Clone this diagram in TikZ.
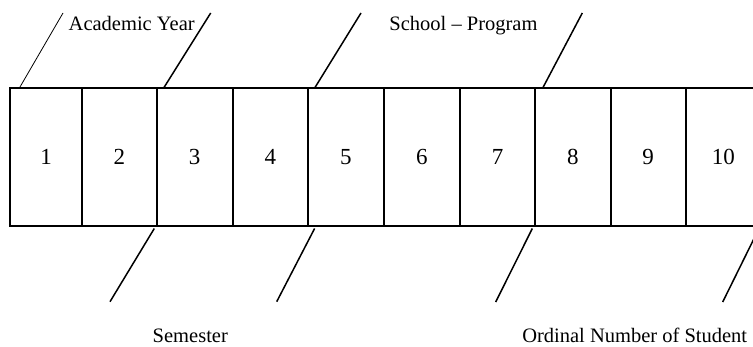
\documentclass[tikz,border=0pt]{standalone}
\usepackage{fontspec}
\setmainfont{Liberation Serif}
\usetikzlibrary{calc}
\begin{document}
\begin{tikzpicture}[x=1pt,y=-1pt,
  cell/.style={draw,line width=2pt,inner sep=0pt,minimum height=137.5pt,font=\fontsize{23}{26}\selectfont},
  tick/.style={line width=1.5pt},
  thin tick/.style={line width=0.8pt},
  lab/.style={anchor=base,inner sep=0pt,font=\fontsize{20.5}{24}\selectfont}]
\useasboundingbox (0,0) rectangle (753,347);
% boxes
\node[cell,minimum width=72pt]   (b1)  at (46,157.25)    {1};
\node[cell,minimum width=74.7pt] (b2)  at (119.35,157.25) {2};
\node[cell,minimum width=75.8pt] (b3)  at (194.6,157.25) {3};
\node[cell,minimum width=75.5pt] (b4)  at (270.25,157.25) {4};
\node[cell,minimum width=75.7pt] (b5)  at (345.85,157.25) {5};
\node[cell,minimum width=76.3pt] (b6)  at (421.85,157.25) {6};
\node[cell,minimum width=75pt]   (b7)  at (497.5,157.25) {7};
\node[cell,minimum width=75.7pt] (b8)  at (572.85,157.25) {8};
\node[cell,minimum width=75pt]   (b9)  at (648.2,157.25) {9};
\node[cell,minimum width=75.3pt] (b10) at (723.35,157.25) {10};
% free ends
\coordinate (t1) at (63,13);
\coordinate (t2) at (210.7,13);
\coordinate (t3) at (361,13);
\coordinate (t4) at (582.3,13);
\coordinate (u1) at (110,301.7);
\coordinate (u2) at (276.7,301.7);
\coordinate (u3) at (495.7,302);
\coordinate (u4) at (722.7,302);
% upper ticks
\draw[thin tick] ($(b1.north west)+(10.7,0)$) -- (t1);
\draw[tick] ($(b3.north west)+(8.3,0)$) -- (t2);
\draw[tick] ($(b5.north west)+(8,0)$) -- (t3);
\draw[tick] ($(b8.north west)+(9,0)$) -- (t4);
% lower ticks
\draw[tick] ($(b3.south west)+(-1.4,1.5)$) -- (u1);
\draw[tick] ($(b5.south west)+(7.6,1.5)$) -- (u2);
\draw[tick] ($(b8.south west)+(-1.7,1.5)$) -- (u3);
\draw[tick] ($(b10.south east)+(-3,1.5)$) -- (u4);
% labels
\node[lab] (ay) at (131.7,30.5) {Academic Year};
\node[lab] (sp) at (463.5,31) {School – Program};
\node[lab] (se) at (190.3,342.5) {Semester};
\node[lab] (on) at (634.7,342.5) {Ordinal Number of Student};
\end{tikzpicture}
\end{document}
